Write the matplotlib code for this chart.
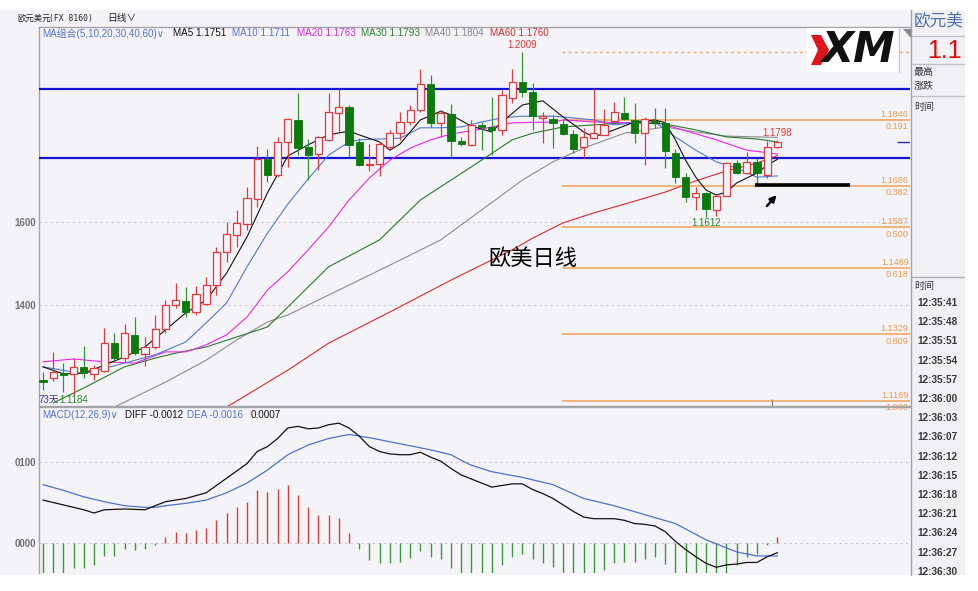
import matplotlib
matplotlib.use('Agg')
import matplotlib.pyplot as plt
from matplotlib.patches import Rectangle, Polygon

FAM = ['Liberation Sans', 'DejaVu Sans', 'Noto Sans CJK SC']
plt.rcParams['font.family'] = FAM

# ---------------- data ----------------
opens = [1.1219, 1.1224, 1.1236, 1.1234, 1.1251, 1.1234, 1.1241, 1.1308, 1.1272, 1.1328,
         1.1282, 1.1299, 1.1342, 1.1400, 1.1410, 1.1383, 1.1402, 1.1448, 1.1528, 1.1569,
         1.1595, 1.1655, 1.1752, 1.1713, 1.1793, 1.1846, 1.1781, 1.1764, 1.1798, 1.1863,
         1.1877, 1.1793, 1.1737, 1.1740, 1.1781, 1.1814, 1.1841, 1.1870, 1.1933, 1.1839,
         1.1860, 1.1795, 1.1786, 1.1834, 1.1829, 1.1822, 1.1899, 1.1937, 1.1913, 1.1850,
         1.1848, 1.1836, 1.1812, 1.1781, 1.1802, 1.1810, 1.1843, 1.1863, 1.1846, 1.1814,
         1.1843, 1.1839, 1.1766, 1.1708, 1.1660, 1.1670, 1.1629, 1.1663, 1.1742, 1.1718,
         1.1745, 1.1713, 1.1781]
highs = [1.1239, 1.1287, 1.1260, 1.1272, 1.1301, 1.1255, 1.1345, 1.1333, 1.1354, 1.1371,
         1.1323, 1.1376, 1.1412, 1.1453, 1.1443, 1.1446, 1.1467, 1.1540, 1.1600, 1.1629,
         1.1684, 1.1783, 1.1776, 1.1805, 1.1850, 1.1911, 1.1800, 1.1807, 1.1911, 1.1920,
         1.1882, 1.1802, 1.1788, 1.1793, 1.1822, 1.1865, 1.1882, 1.1969, 1.1954, 1.1870,
         1.1884, 1.1805, 1.1846, 1.1841, 1.1901, 1.1918, 1.1969, 1.2009, 1.1935, 1.1865,
         1.1858, 1.1846, 1.1822, 1.1827, 1.1920, 1.1872, 1.1889, 1.1901, 1.1887, 1.1853,
         1.1875, 1.1875, 1.1776, 1.1718, 1.1684, 1.1672, 1.1667, 1.1745, 1.1749, 1.1769,
         1.1754, 1.1795, 1.1798]
lows = [1.1195, 1.1217, 1.1190, 1.1184, 1.1224, 1.1219, 1.1239, 1.1263, 1.1263, 1.1280,
        1.1253, 1.1294, 1.1333, 1.1393, 1.1371, 1.1376, 1.1400, 1.1424, 1.1504, 1.1540,
        1.1581, 1.1636, 1.1696, 1.1708, 1.1733, 1.1761, 1.1701, 1.1725, 1.1795, 1.1817,
        1.1757, 1.1735, 1.1723, 1.1711, 1.1778, 1.1798, 1.1834, 1.1865, 1.1829, 1.1805,
        1.1754, 1.1783, 1.1783, 1.1773, 1.1761, 1.1810, 1.1887, 1.1901, 1.1822, 1.1790,
        1.1778, 1.1810, 1.1766, 1.1754, 1.1802, 1.1810, 1.1843, 1.1846, 1.1790, 1.1737,
        1.1827, 1.1730, 1.1694, 1.1648, 1.1629, 1.1612, 1.1614, 1.1663, 1.1716, 1.1716,
        1.1694, 1.1706, 1.1778]
closes = [1.1214, 1.1239, 1.1231, 1.1251, 1.1236, 1.1248, 1.1308, 1.1272, 1.1333, 1.1284,
          1.1299, 1.1342, 1.1400, 1.1412, 1.1383, 1.1427, 1.1448, 1.1528, 1.1571, 1.1598,
          1.1658, 1.1752, 1.1713, 1.1793, 1.1848, 1.1778, 1.1761, 1.1805, 1.1865, 1.1877,
          1.1786, 1.1737, 1.1740, 1.1788, 1.1814, 1.1841, 1.1870, 1.1933, 1.1839, 1.1863,
          1.1795, 1.1788, 1.1834, 1.1829, 1.1822, 1.1906, 1.1937, 1.1913, 1.1855, 1.1855,
          1.1839, 1.1812, 1.1776, 1.1805, 1.1814, 1.1834, 1.1865, 1.1848, 1.1814, 1.1848,
          1.1839, 1.1771, 1.1708, 1.1660, 1.1670, 1.1631, 1.1663, 1.1742, 1.1718, 1.1745,
          1.1718, 1.1781, 1.1792]

ma5_idx = [0, 2, 4, 6, 8, 10, 12, 14, 16, 18, 20, 22, 24, 26, 28, 30, 31, 33, 34, 35, 37, 39, 40,
           42, 44, 45, 47, 49, 51, 53, 54, 56, 58, 60, 61, 62, 63, 64, 65, 66, 67, 68, 69, 70, 71, 72]
ma5 = [1.1251, 1.1234, 1.1236, 1.1255, 1.1275, 1.1299, 1.1340, 1.1381, 1.1412, 1.1477,
       1.1564, 1.1670, 1.1759, 1.1786, 1.1810, 1.1819, 1.1810, 1.1793, 1.1773, 1.1788,
       1.1846, 1.1867, 1.1858, 1.1831, 1.1817, 1.1841, 1.1882, 1.1892, 1.1853, 1.1817,
       1.1805, 1.1822, 1.1841, 1.1846, 1.1839, 1.1798, 1.1749, 1.1708, 1.1677, 1.1665,
       1.1672, 1.1694, 1.1706, 1.1718, 1.1737, 1.1751]
ma10_idx = [0, 4, 8, 11, 14, 16, 18, 20, 22, 24, 26, 28, 30, 31, 33, 35, 37, 39, 41, 43,
            45, 47, 50, 51, 54, 56, 58, 60, 62, 64, 66, 68, 70, 72]
ma10 = [1.1251, 1.1234, 1.1260, 1.1280, 1.1311, 1.1357, 1.1405, 1.1492, 1.1573, 1.1643,
        1.1704, 1.1761, 1.1793, 1.1798, 1.1800, 1.1802, 1.1827, 1.1827, 1.1829, 1.1841,
        1.1851, 1.1855, 1.1855, 1.1853, 1.1846, 1.1834, 1.1839, 1.1841, 1.1805, 1.1773,
        1.1745, 1.1730, 1.1708, 1.1711]
ma20_idx = [0, 3, 6, 9, 12, 14, 16, 18, 20, 22, 24, 26, 28, 30, 32, 34, 36, 38, 40, 43,
            46, 50, 51, 54, 57, 60, 62, 66, 69, 72]
ma20 = [1.1263, 1.1270, 1.1263, 1.1260, 1.1287, 1.1287, 1.1304, 1.1328, 1.1371, 1.1436,
        1.1480, 1.1533, 1.1588, 1.1653, 1.1706, 1.1749, 1.1778, 1.1798, 1.1812, 1.1824,
        1.1839, 1.1841, 1.1846, 1.1841, 1.1839, 1.1841, 1.1827, 1.1798, 1.1773, 1.1764]
ma30_idx = [1, 4, 8, 11, 13, 16, 19, 22, 24, 28, 33, 37, 40, 43, 46, 48, 51, 54, 57, 61,
            64, 67, 70, 72]
ma30 = [1.1164, 1.1200, 1.1251, 1.1272, 1.1284, 1.1299, 1.1323, 1.1347, 1.1395, 1.1492,
        1.1557, 1.1653, 1.1701, 1.1749, 1.1798, 1.1814, 1.1829, 1.1834, 1.1839, 1.1836,
        1.1822, 1.1805, 1.1800, 1.1793]
ma40_idx = [7, 12, 16, 19, 22, 24, 30, 35, 39, 43, 47, 50, 53, 57, 61, 64, 67, 70, 72]
ma40 = [1.1154, 1.1214, 1.1267, 1.1316, 1.1359, 1.1376, 1.1448, 1.1508, 1.1557, 1.1629,
        1.1701, 1.1745, 1.1778, 1.1814, 1.1829, 1.1817, 1.1807, 1.1805, 1.1804]
ma60_idx = [17, 18, 24, 28, 34, 40, 46, 48, 51, 54, 57, 61, 64, 67, 70, 72]
ma60 = [1.1140, 1.1154, 1.1243, 1.1308, 1.1383, 1.1460, 1.1533, 1.1561, 1.1598, 1.1622,
        1.1643, 1.1672, 1.1699, 1.1723, 1.1742, 1.1760]

macd_hist = [-0.0040, -0.0039, -0.0037, -0.0031, -0.0031, -0.0027, -0.00165, -0.0016, -0.0008, -0.0009,
             -0.0007, -0.0002, 0.0007, 0.0014, 0.0012, 0.0016, 0.0019, 0.0029, 0.0037, 0.0044,
             0.0051, 0.0065, 0.0063, 0.0067, 0.0071, 0.0059, 0.0045, 0.0035, 0.0035, 0.0031,
             0.0012, -0.0007, -0.0021, -0.0025, -0.0025, -0.0023, -0.0019, -0.0010, -0.0017, -0.0020,
             -0.0031, -0.0038, -0.0038, -0.0038, -0.0039, -0.0027, -0.0017, -0.0014, -0.0020, -0.0025,
             -0.0030, -0.0038, -0.0040, -0.0046, -0.0040, -0.0033, -0.0025, -0.0023, -0.0024, -0.0020,
             -0.0017, -0.0026, -0.0044, -0.0052, -0.0056, -0.0058, -0.0058, -0.0042, -0.0027, -0.0017,
             -0.0014, -0.0002, 0.0007]
diff_idx = [0, 2, 4, 5, 6, 8, 10, 12, 14, 16, 18] + list(range(20, 73))
diff_val = [0.0053, 0.0047, 0.0041, 0.0037, 0.0041, 0.0042, 0.0041, 0.0051, 0.0055, 0.0062, 0.0080,
            0.0098, 0.0113, 0.0119, 0.0129, 0.0142, 0.0144, 0.0141, 0.0142, 0.0146, 0.0148,
            0.0142, 0.0132, 0.0119, 0.0113, 0.0110, 0.0109, 0.0109, 0.0112, 0.0106, 0.0101,
            0.0092, 0.0084, 0.0079, 0.0074, 0.0069, 0.0071, 0.0073, 0.0073, 0.0066, 0.0061,
            0.0055, 0.0047, 0.0039, 0.0032, 0.0030, 0.0030, 0.0030, 0.0028, 0.0024, 0.0023,
            0.0021, 0.0014, 0.0002, -0.0008, -0.0017, -0.0025, -0.0030, -0.0027, -0.0026, -0.0024,
            -0.0024, -0.0017, -0.0012]
dea_idx = [0, 2, 4, 6, 8, 10, 11, 12, 14, 16, 18, 20, 22, 24, 26, 28, 30, 32, 34, 36, 38, 40,
           41, 42, 44, 47, 50, 53, 56, 59, 62, 65, 68, 70, 72]
dea_val = [0.0072, 0.0065, 0.0057, 0.0051, 0.0046, 0.0044, 0.0044, 0.0046, 0.0049, 0.0053,
           0.0062, 0.0074, 0.0090, 0.0109, 0.0121, 0.0129, 0.0134, 0.0130, 0.0125, 0.0120,
           0.0115, 0.0109, 0.0102, 0.0096, 0.0088, 0.0081, 0.0072, 0.0055, 0.0046, 0.0035,
           0.0024, 0.0004, -0.0011, -0.0016, -0.0016]

fib_top = 1.2009
fib_levels = [1.1846, 1.1686, 1.1587, 1.1489, 1.1329, 1.1169]
fib_ratios = ['0.191', '0.382', '0.500', '0.618', '0.809', '1.000']
resistance_levels = [1.1920, 1.1754]
support_mark = 1.1689
price_ticks = [1.16, 1.14]
price_tick_labels = ['1600', '1400']
macd_ticks = [0.01, 0.0]
macd_tick_labels = ['0100', '0000']
times = ['12:35:41', '12:35:48', '12:35:51', '12:35:54', '12:35:57', '12:36:00', '12:36:03',
         '12:36:07', '12:36:12', '12:36:15', '12:36:18', '12:36:21', '12:36:24', '12:36:27',
         '12:36:30']

# ---------------- colours ----------------
BG = '#f4f4f8'
UP = '#e8383c'
DN_BODY = '#0b7a0b'
DN_WICK = '#2f9630'
FIB = '#f2a865'
GRID = '#c6c6cc'
SPINE = '#a4a4a8'

W, H = 979, 591
fig = plt.figure(figsize=(W / 100, H / 100), dpi=100)
fig.patch.set_facecolor('white')


def rect(l, t, r, b):
    return [l / W, 1 - b / H, (r - l) / W, (b - t) / H]


# pixel-space background
bg = fig.add_axes([0, 0, 1, 1], zorder=0)
bg.set_xlim(0, W)
bg.set_ylim(H, 0)
bg.axis('off')
bg.add_patch(Rectangle((0, 10), 912, 565, facecolor=BG, edgecolor='none'))
bg.add_patch(Rectangle((912, 10), 53, 565, facecolor='#f1f1f5', edgecolor='none'))
bg.plot([911.5, 911.5], [10, 575], color=SPINE, lw=1)
bg.text(17, 18, '欧元美元', fontsize=6.0, color='#222222', va='center', family=['Noto Sans CJK SC'])
bg.text(49, 18, '(FX 8160)', fontsize=5.8, color='#222222', va='center', family=['DejaVu Sans Mono'])
bg.text(107, 18, '日线∨', fontsize=7.0, color='#222222', va='center', family=['Noto Sans CJK SC', 'DejaVu Sans'])

legend_items = [(42, 'MA组合(5,10,20,30,40,60)∨', '#5472c8'), (173, 'MA5 1.1751', '#111111'),
                (232, 'MA10 1.1711', '#5472d0'), (297, 'MA20 1.1763', '#e020e0'),
                (361, 'MA30 1.1793', '#2a802a'), (425, 'MA40 1.1804', '#888888'),
                (490, 'MA60 1.1760', '#e02424')]
for xp, s, c in legend_items:
    bg.text(xp, 33.5, s, fontsize=7.1, color=c, va='center', ha='left')

macd_items = [(42, 'MACD(12,26,9)∨', '#5472c8'), (125, 'DIFF -0.0012', '#111111'),
              (187, 'DEA -0.0016', '#5472d0'), (251, '0.0007', '#111111')]
for xp, s, c in macd_items:
    bg.text(xp, 414.5, s, fontsize=7.1, color=c, va='center', ha='left')

# ---------------- main price panel ----------------
X0 = 43.0
DX = 10.2
ax = fig.add_axes(rect(39, 27, 910, 406), zorder=2)
ax.set_facecolor('none')
ax.set_xlim((39 - X0) / DX, (910 - X0) / DX)
ax.set_ylim(1.16 - (406 - 222) / 4150, 1.16 + (222 - 27) / 4150)
for s in ['left', 'top', 'bottom']:
    ax.spines[s].set_color(SPINE)
    ax.spines[s].set_linewidth(1)
ax.spines['right'].set_visible(False)
ax.set_xticks([])
ax.set_yticks(price_ticks)
ax.set_yticklabels(price_tick_labels)
ax.tick_params(axis='y', length=0, pad=2, labelsize=7, labelcolor='#707070')
for t in ax.get_yticklabels():
    t.set_fontweight('bold')
ax.yaxis.grid(True, linestyle=(0, (2, 3)), color=GRID, lw=0.8)
ax.set_axisbelow(True)

# resistance lines
for lv in resistance_levels:
    ax.axhline(lv, color='#1414d2', lw=1.6, zorder=3)

# fib lines
fib_x0 = (562 - X0) / DX
xr = ax.get_xlim()[1]
ax.hlines(fib_top, fib_x0, xr, colors=FIB, lw=1.0, linestyles=(0, (2, 2.5)), zorder=2)
ax.hlines(fib_levels, fib_x0, xr, colors=FIB, lw=1.2, zorder=2)
for lv, r in zip(fib_levels, fib_ratios):
    ax.annotate(f'{lv:.4f}', xy=(xr, lv), xytext=(-1, 4.1), textcoords='offset points',
                ha='right', va='center', fontsize=6.6, color='#eb9a4c')
    ax.annotate(r, xy=(xr, lv), xytext=(-1, -4.8), textcoords='offset points',
                ha='right', va='center', fontsize=6.6, color='#eb9a4c')

# MA lines
ma_series = [(ma60_idx, ma60, '#e02828'), (ma40_idx, ma40, '#8c8c8c'), (ma30_idx, ma30, '#2a7a2a'),
             (ma20_idx, ma20, '#ee22ee'), (ma10_idx, ma10, '#5078d8'), (ma5_idx, ma5, '#111111')]
for xi, yv, c in ma_series:
    ax.plot(xi, yv, color=c, lw=0.8, zorder=4, solid_joinstyle='round')

# candles
bw = 0.7
for i, (o, h, l, c) in enumerate(zip(opens, highs, lows, closes)):
    top, bot = max(o, c), min(o, c)
    hgt = max(top - bot, 0.00022)
    if c >= o:
        ax.vlines(i, top, h, colors=UP, lw=0.9, zorder=5)
        ax.vlines(i, l, bot, colors=UP, lw=0.9, zorder=5)
        ax.add_patch(Rectangle((i - bw / 2, bot), bw, hgt, facecolor=BG, edgecolor=UP,
                               lw=0.9, zorder=6))
    else:
        ax.vlines(i, l, h, colors=DN_WICK, lw=0.9, zorder=5)
        ax.add_patch(Rectangle((i - bw / 2, bot), bw, hgt, facecolor=DN_BODY, edgecolor=DN_BODY,
                               lw=0.6, zorder=6))

# extreme labels
i_hi = highs.index(max(highs))
ax.annotate(f'{highs[i_hi]:.4f}', xy=(i_hi, highs[i_hi]), xytext=(0, 5), textcoords='offset points',
            ha='center', va='center', fontsize=7, color='#e03434', zorder=7)
i_lo_recent = 65
ax.annotate(f'{lows[i_lo_recent]:.4f}', xy=(i_lo_recent, lows[i_lo_recent]), xytext=(0, -4.3),
            textcoords='offset points', ha='center', va='center', fontsize=7, color='#2a8a2a', zorder=7)
ax.annotate(f'{highs[72]:.4f}', xy=(72, highs[72]), xytext=(0, 5), textcoords='offset points',
            ha='center', va='center', fontsize=7, color='#e03434', zorder=7)
i_lo = lows.index(min(lows))
ax.annotate(f'{lows[i_lo]:.4f}', xy=(i_lo, lows[i_lo]), xytext=(-10.5, -3.6),
            textcoords='offset points', ha='left', va='center', fontsize=7, color='#2a8a2a', zorder=7)
ax.annotate('73天', xy=(i_lo, lows[i_lo]), xytext=(-25, -3.6), textcoords='offset points',
            ha='left', va='center', fontsize=7, color='#3a3a8a', zorder=7)

# hand annotations
ax.hlines(support_mark, (755 - X0) / DX, (850 - X0) / DX, colors='black', lw=2.6, zorder=7)
ax.annotate('', xy=(72.1, 1.1670), xytext=(70.8, 1.16337),
            arrowprops=dict(arrowstyle='-|>', color='black', lw=1.8, mutation_scale=9), zorder=7)
ax.text(48.0, 1.15133, '欧美日线', fontsize=16, color='black', ha='center', va='center',
        family=['Noto Sans CJK SC'], zorder=8)
ax.hlines(closes[-1], (897 - X0) / DX, xr, colors='#2030a0', lw=1, zorder=7)
ax.vlines(71.5, ax.get_ylim()[0], ax.get_ylim()[0] + 0.0016, colors='#909090', lw=1, zorder=7)

# ---------------- MACD panel ----------------
ax2 = fig.add_axes(rect(39, 407, 910, 573), zorder=2)
ax2.set_facecolor('none')
ax2.set_xlim(ax.get_xlim())
ax2.set_ylim(-(573 - 543) / 8100, (543 - 407) / 8100)
for s in ['left', 'top']:
    ax2.spines[s].set_color(SPINE)
    ax2.spines[s].set_linewidth(1)
ax2.spines['right'].set_visible(False)
ax2.spines['bottom'].set_visible(False)
ax2.set_xticks([])
ax2.set_yticks(macd_ticks)
ax2.set_yticklabels(macd_tick_labels)
ax2.tick_params(axis='y', length=0, pad=2, labelsize=7, labelcolor='#707070')
for t in ax2.get_yticklabels():
    t.set_fontweight('bold')
ax2.yaxis.grid(True, linestyle=(0, (2, 3)), color=GRID, lw=0.8)
ax2.set_axisbelow(True)
hist_cols = ['#e03a3a' if v > 0 else '#3a9a3a' for v in macd_hist]
ax2.vlines(range(len(macd_hist)), 0, macd_hist, colors=hist_cols, lw=1.0, zorder=3)
ax2.plot(dea_idx, dea_val, color='#5070d0', lw=0.9, zorder=4)
ax2.plot(diff_idx, diff_val, color='#111111', lw=0.9, zorder=5)

# ---------------- overlay: logo ----------------
fg = fig.add_axes([0, 0, 1, 1], zorder=10)
fg.set_xlim(0, W)
fg.set_ylim(H, 0)
fg.axis('off')
fg.add_patch(Rectangle((807, 28), 92, 44, facecolor='white', edgecolor='none'))
fg.add_patch(Polygon([(811, 35), (821, 35), (829, 50), (821, 65), (811, 65), (818, 50)],
                     closed=True, facecolor='#e0151b', edgecolor='none'))
fg.text(821, 50, 'XM', fontsize=30, fontweight='bold', fontstyle='italic', color='#111111',
        va='center', ha='left', family=['DejaVu Sans'])
fg.plot([899.5, 899.5], [28, 72], color='#c8c8c8', lw=1)
fg.add_patch(Polygon([(903, 29), (911, 29), (911, 38)], closed=True, facecolor='#8a8a8a',
                     edgecolor='none'))

# ---------------- right info panel ----------------
rp = fig.add_axes(rect(912, 10, 965, 575), zorder=3)
rp.set_xlim(912, 965)
rp.set_ylim(575, 10)
rp.axis('off')
rp.text(914, 22, '欧元美', fontsize=12, color='#4e73a8', va='center', ha='left',
        family=['Noto Sans CJK SC'])
rp.plot([912, 965], [36.5, 36.5], color='#c0c0c4', lw=1)
rp.text(927, 51, '1.1', fontsize=18, color='#e00a0a', va='center', ha='left')
rp.plot([912, 965], [64.5, 64.5], color='#c0c0c4', lw=1)
rp.text(914, 72, '最高', fontsize=7.2, color='#333333', va='center', ha='left',
        family=['Noto Sans CJK SC'])
rp.text(914, 86, '涨跌', fontsize=7.2, color='#333333', va='center', ha='left',
        family=['Noto Sans CJK SC'])
rp.plot([912, 965], [96.5, 96.5], color='#c0c0c4', lw=1)
rp.text(914, 107, '时间', fontsize=7.2, color='#333333', va='center', ha='left',
        family=['Noto Sans CJK SC'])
rp.plot([912, 965], [277.5, 277.5], color='#b0b0b4', lw=1)
rp.text(914, 286, '时间', fontsize=7.2, color='#333333', va='center', ha='left',
        family=['Noto Sans CJK SC'])
for k, t in enumerate(times):
    rp.text(917, 303 + 19.2 * k, t, fontsize=7.2, fontweight='bold', color='#383838',
            va='center', ha='left', clip_on=True)

fig.savefig('out.png', dpi=100, facecolor='white')
